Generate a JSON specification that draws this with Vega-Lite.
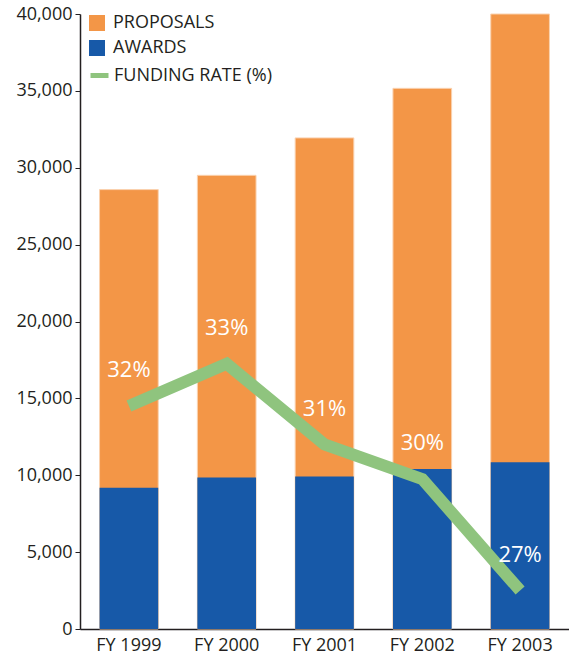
{
  "$schema": "https://vega.github.io/schema/vega-lite/v6.json",
  "width": 489,
  "height": 615,
  "autosize": {"type": "none"},
  "padding": {"left": 80, "top": 14, "right": 0, "bottom": 27},
  "background": "white",
  "config": {
    "view": {"stroke": null},
    "font": "Open Sans",
    "axis": {"labelFont": "Open Sans", "labelColor": "#231F20", "labelFontSize": 18, "domainColor": "#231F20", "tickColor": "#231F20", "domainWidth": 1.5, "grid": false, "title": null},
    "legend": {"labelFont": "Open Sans", "labelFontSize": 18, "labelColor": "#231F20", "title": null}
  },
  "data": {
    "values": [
      {"year": "FY 1999", "proposals": 28579, "awards": 9189, "rate": 0.320},
      {"year": "FY 2000", "proposals": 29508, "awards": 9850, "rate": 0.331},
      {"year": "FY 2001", "proposals": 31942, "awards": 9925, "rate": 0.310},
      {"year": "FY 2002", "proposals": 35165, "awards": 10406, "rate": 0.301},
      {"year": "FY 2003", "proposals": 40000, "awards": 10844, "rate": 0.272}
    ]
  },
  "encoding": {
    "x": {"field": "year", "type": "nominal", "sort": null,
      "scale": {"paddingInner": 0.4, "paddingOuter": 0.2},
      "axis": {"labelAngle": 0, "ticks": false, "labelPadding": 7}}
  },
  "layer": [
    {
      "layer": [
        {
          "mark": {"type": "bar", "stroke": "#FAD2B0", "strokeWidth": 1},
          "encoding": {
            "y": {"field": "proposals", "type": "quantitative",
              "scale": {"domain": [0, 40000], "nice": false},
              "axis": {"values": [0, 5000, 10000, 15000, 20000, 25000, 30000, 35000, 40000], "format": ",.0f", "tickSize": 5, "labelPadding": 3}},
            "fill": {"datum": "PROPOSALS", "type": "nominal",
              "scale": {"domain": ["PROPOSALS", "AWARDS"], "range": ["#F39647", "#1759A8"]},
              "legend": {"orient": "none", "legendX": 8, "legendY": 0, "symbolType": "square", "symbolSize": 256, "symbolStrokeWidth": 0, "rowPadding": 7, "labelOffset": 7}}
          }
        },
        {
          "mark": {"type": "bar"},
          "encoding": {
            "y": {"field": "awards", "type": "quantitative"},
            "fill": {"datum": "AWARDS", "type": "nominal"}
          }
        }
      ]
    },
    {
      "layer": [
        {
          "mark": {"type": "line", "strokeWidth": 12, "strokeJoin": "miter"},
          "encoding": {
            "y": {"field": "rate", "type": "quantitative", "scale": {"domain": [0.262, 0.422], "nice": false, "zero": false}, "axis": null},
            "stroke": {"datum": "FUNDING RATE (%)", "type": "nominal",
              "scale": {"range": ["#8FC47E"]},
              "legend": {"orient": "none", "legendX": 8, "legendY": 50, "symbolType": "stroke", "symbolSize": 324, "symbolStrokeWidth": 5, "labelOffset": 3}}
          }
        },
        {
          "mark": {"type": "text", "color": "white", "fontSize": 22, "dy": -36, "font": "Open Sans"},
          "encoding": {
            "y": {"field": "rate", "type": "quantitative"},
            "text": {"field": "rate", "type": "quantitative", "format": ".0%"}
          }
        }
      ]
    }
  ],
  "resolve": {"scale": {"y": "independent"}}
}
